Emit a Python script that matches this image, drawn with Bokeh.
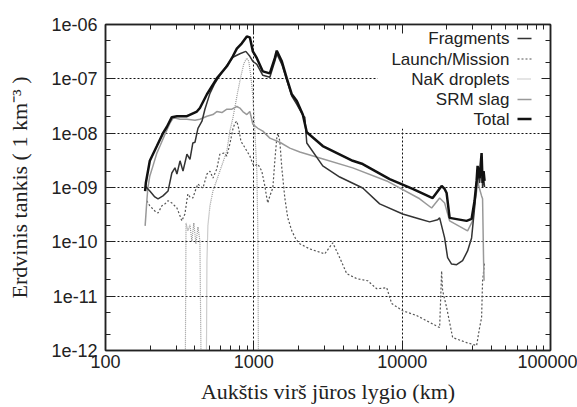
from bokeh.plotting import figure
from bokeh.models import Range1d, FixedTicker, LogAxis, Label, BoxAnnotation
from bokeh.embed import file_html
from bokeh.resources import INLINE

# ---------------- data (altitude km, spatial density 1/km^3) ----------------
total_alt = [185, 187, 199, 222, 244, 259, 280, 303, 354, 413, 433, 483, 563, 658, 722, 768, 830, 897, 940,
             985, 1048, 1150, 1282, 1385, 1428, 1544, 1668, 1803, 1949, 2138, 2275, 2915, 4642, 5420, 8239,
             11770, 16050, 18450, 19330, 19940, 20890, 27190, 29380, 30770, 31750, 32250, 33270, 34310,
             34840, 35390, 35940]
total_dens = [8.6e-10, 1.21e-9, 3.1e-9, 5.8e-9, 1.0e-8, 1.3e-8, 1.97e-8, 2.05e-8, 2.05e-8, 2.5e-8, 2.9e-8,
              5.2e-8, 1.02e-7, 1.7e-7, 2.6e-7, 3.6e-7, 4.5e-7, 6.0e-7, 5.8e-7, 3.2e-7, 2.4e-7, 1.37e-7,
              1.26e-7, 2.4e-7, 3.3e-7, 2.1e-7, 1.02e-7, 5.2e-8, 3.9e-8, 2.2e-8, 1.04e-8, 5.8e-9, 3.1e-9,
              2.7e-9, 1.43e-9, 9.4e-10, 6.4e-10, 1.07e-9, 9.4e-10, 7.9e-10, 2.76e-10, 2.43e-10, 2.64e-10,
              5.7e-10, 1.32e-9, 2.5e-9, 1.49e-9, 4.3e-9, 1.21e-9, 2.0e-9, 1.32e-9]

frag_alt = [185, 199, 215, 226, 244, 264, 280, 294, 303, 318, 333, 354, 371, 388, 401, 420, 447, 468, 506,
            546, 590, 658, 722, 805, 883, 940, 985, 1048, 1150, 1282, 1385, 1428, 1544, 1668, 1803, 1949,
            2138, 2205, 2275, 2915, 3794, 5420, 7056, 10080, 13120, 15320, 17340, 17890, 19330, 20250,
            21540, 23280, 25550, 27610, 29380, 30770, 31750, 32250, 33270, 34310, 34840, 35390, 35940]
frag_dens = [1.07e-9, 8.6e-10, 6.7e-10, 6.2e-10, 7.0e-10, 8.6e-10, 1.85e-9, 2.3e-9, 1.77e-9, 3.1e-9, 2.0e-9,
             4.1e-9, 3.3e-9, 6.6e-9, 6.8e-9, 1.23e-8, 1.66e-8, 2.76e-8, 5.4e-8, 8.3e-8, 1.16e-7, 1.77e-7,
             2.5e-7, 2.9e-7, 3.2e-7, 2.6e-7, 2.1e-7, 1.85e-7, 1.16e-7, 1.07e-7, 2.1e-7, 2.9e-7, 1.85e-7,
             9.4e-8, 4.8e-8, 3.4e-8, 2.14e-8, 1.97e-8, 6.6e-9, 2.5e-9, 1.56e-9, 9.8e-10, 5.0e-10, 3.26e-10,
             2.64e-10, 2.33e-10, 2.54e-10, 2.76e-10, 1.18e-10, 5.1e-11, 3.9e-11, 3.8e-11, 4.5e-11, 6.8e-11,
             1.18e-10, 4.2e-10, 1.21e-9, 1.85e-9, 1.21e-9, 3.3e-9, 1.02e-9, 1.56e-9, 1.02e-9]

slag_alt = [185, 187, 190, 193, 199, 209, 222, 233, 252, 272, 285, 298, 318, 354, 401, 433, 483, 530, 563,
            609, 658, 711, 768, 805, 843, 897, 940, 985, 1064, 1150, 1282, 1497, 1748, 2041, 2783, 4642,
            7866, 13120, 15800, 17890, 19330, 20890, 27610, 29840, 31750, 32250, 33270, 34310, 34840,
            35390, 35660]
slag_dens = [1.97e-10, 3.0e-10, 5.7e-10, 9.8e-10, 1.63e-9, 2.5e-9, 4.3e-9, 5.8e-9, 9.6e-9, 1.53e-8, 1.88e-8,
             1.88e-8, 1.8e-8, 1.8e-8, 1.73e-8, 1.8e-8, 2.05e-8, 2.2e-8, 2.5e-8, 2.4e-8, 2.76e-8, 2.76e-8,
             3.1e-8, 2.9e-8, 2.5e-8, 2.2e-8, 2.5e-8, 1.46e-8, 1.23e-8, 1.09e-8, 8.1e-9, 6.8e-9, 5.3e-9,
             4.5e-9, 3.5e-9, 2.3e-9, 1.32e-9, 6.2e-10, 4.2e-10, 6.4e-10, 5.2e-10, 2.43e-10, 1.59e-10,
             2.43e-10, 8.6e-10, 1.32e-9, 9.4e-10, 7.0e-10, 6.2e-10, 4.5e-11, 1.92e-11]

nak_alt = [343, 349, 359, 371, 382, 394, 407, 420, 433, 447, 475, 483, 490, 506, 530, 590, 658, 689, 722,
           780, 818, 857, 897, 925, 955, 985, 1016, 1048, 1064, 1081]
nak_dens = [1e-14, 2.23e-10, 1.59e-10, 2.05e-10, 1.04e-10, 2.23e-10, 9.2e-11, 1.88e-10, 1.04e-10, 1e-14,
            1e-14, 4.5e-11, 1.97e-10, 4.6e-10, 8.6e-10, 2.0e-9, 4.7e-9, 1.09e-8, 1.88e-8, 5.9e-8, 1.11e-7,
            1.92e-7, 2.4e-7, 2.1e-7, 1.11e-7, 4.8e-8, 1.09e-8, 2.0e-9, 1.59e-10, 1e-14]

launch_alt = [190, 199, 215, 226, 240, 252, 264, 280, 303, 318, 327, 343, 359, 371, 388, 407, 420, 440, 454,
              483, 506, 530, 563, 590, 628, 658, 689, 722, 745, 768, 793, 818, 857, 897, 940, 985, 1016,
              1064, 1132, 1186, 1223, 1243, 1282, 1343, 1385, 1428, 1451, 1497, 1544, 1618, 1694, 1803,
              1918, 2041, 2384, 3007, 3404, 3794, 4229, 4938, 5857, 6736, 7866, 8500, 10080, 12520, 17890,
              18450, 18740, 19940, 21890, 27190, 31750, 33270, 34310, 34840, 35940]
launch_dens = [5.7e-10, 4.6e-10, 3.7e-10, 3.4e-10, 4.6e-10, 5.0e-10, 5.7e-10, 5.2e-10, 4.2e-10, 3.0e-10,
               2.43e-10, 3.26e-10, 7.6e-10, 6.7e-10, 6.4e-10, 9.4e-10, 1.16e-9, 1.02e-9, 9.8e-10, 1.77e-9,
               2.0e-9, 1.49e-9, 2.2e-9, 4.1e-9, 4.3e-9, 3.8e-9, 6.3e-9, 1.18e-8, 1.53e-8, 1.66e-8, 1.18e-8,
               7.1e-9, 5.8e-9, 4.7e-9, 3.8e-9, 2.7e-9, 2.5e-9, 2.7e-9, 2.0e-9, 1.07e-9, 6.4e-10, 5.2e-10,
               7.0e-10, 9.8e-10, 3.1e-9, 8.1e-9, 1.0e-8, 7.1e-9, 2.3e-9, 6.4e-10, 2.76e-10, 1.59e-10,
               1.13e-10, 9.2e-11, 7.4e-11, 6.0e-11, 9.6e-11, 5.1e-11, 2.6e-11, 2.1e-11, 1.92e-11, 1.37e-11,
               1.43e-11, 7.3e-12, 5.4e-12, 4.4e-12, 2.64e-12, 2.9e-11, 1.26e-11, 6.2e-12, 1.73e-12,
               1.40e-12, 1.23e-12, 2.64e-12, 4.0e-12, 1.92e-11, 4.1e-11]

ytick_values = [1e-12, 1e-11, 1e-10, 1e-09, 1e-08, 1e-07, 1e-06]
ytick_labels = ["1e-12", "1e-11", "1e-10", "1e-09", "1e-08", "1e-07", "1e-06"]
xtick_values = [100, 1000, 10000, 100000]
xtick_labels = ["100", "1000", "10000", "100000"]
legend_labels = ["Fragments", "Launch/Mission", "NaK droplets", "SRM slag", "Total"]

x_title = "Aukštis virš jūros lygio (km)"
y_title = "Erdvinis tankis ( 1 km⁻³ )"

# ---------------- figure ----------------
W, H = 577, 407
FL, FR, FT, FB = 105, 550, 24, 350  # frame edges on the page
p = figure(width=W, height=H, x_axis_type="log", y_axis_type="log",
           x_range=Range1d(100, 100000), y_range=Range1d(1e-12, 1e-6),
           output_backend="svg", toolbar_location=None,
           min_border_left=FL, min_border_right=W - FR, min_border_top=FT, min_border_bottom=H - FB)
p.background_fill_color = "white"
p.border_fill_color = "white"
p.outline_line_color = "#222222"
p.outline_line_width = 1.5

x_minor = [m * 10.0 ** k for k in (2, 3, 4) for m in range(2, 10)]
y_minor = [m * 10.0 ** k for k in range(-12, -6) for m in (2, 5)]
xticker = FixedTicker(ticks=xtick_values, minor_ticks=x_minor)
yticker = FixedTicker(ticks=ytick_values, minor_ticks=y_minor)

TICK_FONT = "Liberation Sans"
for ax in (p.xaxis[0], p.yaxis[0]):
    ax.major_tick_in = 9
    ax.major_tick_out = 0
    ax.minor_tick_in = 5
    ax.minor_tick_out = 0
    ax.axis_line_width = 1.5
    ax.axis_line_color = "#222222"
    ax.major_tick_line_color = "#222222"
    ax.minor_tick_line_color = "#222222"
    ax.major_label_text_font = TICK_FONT
    ax.major_label_text_font_size = "18px"
    ax.major_label_text_color = "#222222"
    ax.axis_label_text_font = "Liberation Serif"
    ax.axis_label_text_font_size = "22px"
    ax.axis_label_text_font_style = "normal"
    ax.axis_label_text_color = "#222222"

p.xaxis.ticker = xticker
p.yaxis.ticker = yticker
p.xaxis.major_label_overrides = dict(zip(xtick_values, xtick_labels))
p.yaxis.major_label_overrides = dict(zip(ytick_values, ytick_labels))
p.xaxis.major_label_standoff = 4
p.yaxis.major_label_standoff = 8
p.xaxis.axis_label = x_title
p.yaxis.axis_label = y_title
p.xaxis.axis_label_standoff = 8
p.yaxis.axis_label_standoff = 16

for loc, tk in (("above", xticker), ("right", yticker)):
    ax = LogAxis(ticker=tk)
    ax.major_label_overrides = {v: "" for v in tk.ticks}
    ax.major_label_text_font_size = "0px"
    ax.major_label_standoff = 0
    ax.major_tick_in = 9
    ax.major_tick_out = 0
    ax.minor_tick_in = 5
    ax.minor_tick_out = 0
    ax.axis_line_width = 1.5
    ax.axis_line_color = "#222222"
    ax.major_tick_line_color = "#222222"
    ax.minor_tick_line_color = "#222222"
    p.add_layout(ax, loc)

p.xgrid.ticker = xticker
p.ygrid.ticker = yticker
p.grid.grid_line_color = "#111111"
p.grid.grid_line_dash = "2 2"
p.grid.grid_line_width = 1
p.grid.grid_line_alpha = 1.0


# layout helpers: page-pixel position -> data coordinate (for key decoration only)
def fx(px):
    return 10 ** (2 + 3 * (px - FL) / (FR - FL))


def fy(py):
    return 10 ** (-6 - 6 * (py - FT) / (FB - FT))


# white key box hides grid beneath legend
p.add_layout(BoxAnnotation(left=fx(377), right=fx(548), top=fy(25), bottom=fy(128),
                           fill_color="white", fill_alpha=1, line_color=None, level="underlay"))

styles = {
    "Fragments": dict(line_color="#333333", line_width=1.5),
    "Launch/Mission": dict(line_color="#555555", line_width=1.2, line_dash="2 2"),
    "NaK droplets": dict(line_color="#999999", line_width=1.2, line_dash="1 1"),
    "SRM slag": dict(line_color="#999999", line_width=1.5),
    "Total": dict(line_color="#111111", line_width=2.5),
}

p.line(nak_alt, nak_dens, **styles["NaK droplets"])
p.line(launch_alt, launch_dens, **styles["Launch/Mission"])
p.line(slag_alt, slag_dens, **styles["SRM slag"])
p.line(frag_alt, frag_dens, **styles["Fragments"])
p.line(total_alt, total_dens, **styles["Total"])

# gnuplot-style key: right-aligned text with sample on the right
row_y = [38, 58.5, 78.5, 99, 118.5]
for lab, ry in zip(legend_labels, row_y):
    p.add_layout(Label(x=fx(509), y=fy(ry), text=lab, text_align="right", text_baseline="middle",
                       text_font=TICK_FONT, text_font_size="17px", text_color="#222222"))
    p.line([fx(517), fx(531)], [fy(ry), fy(ry)], **styles[lab])

open("out.html", "w").write(file_html(p, INLINE))
